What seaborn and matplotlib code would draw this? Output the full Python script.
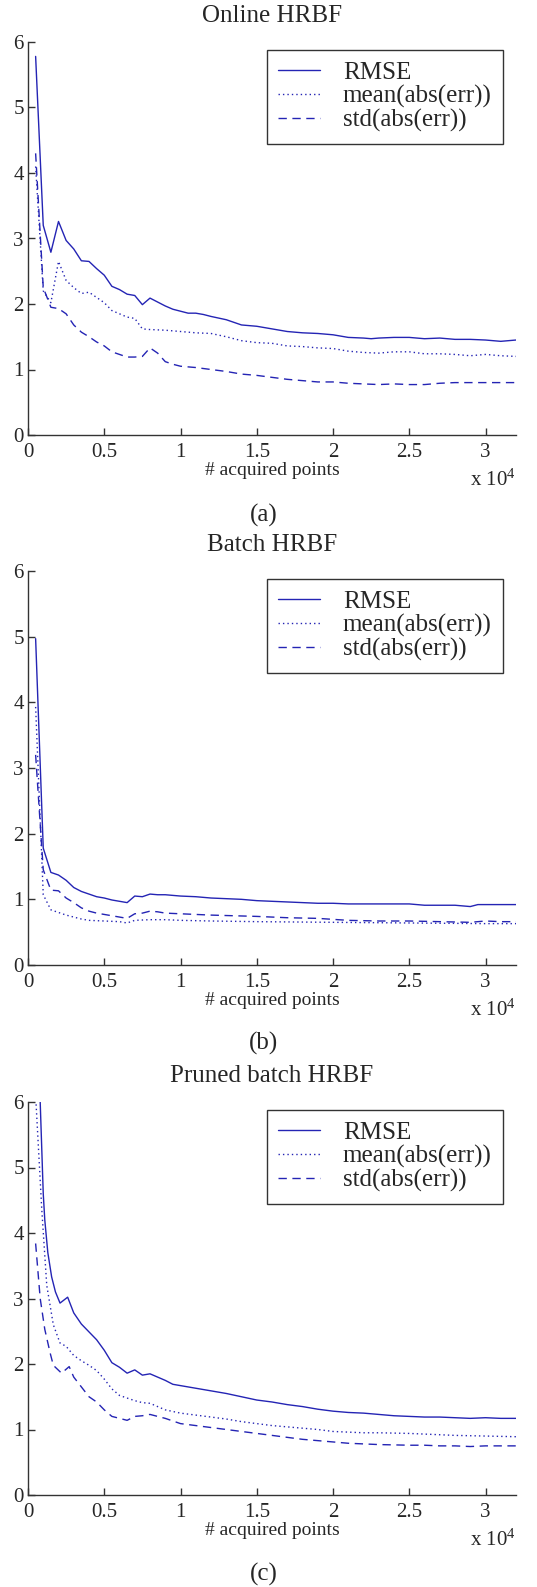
"""Erro de reconstrução vs. número de pontos adquiridos (três variantes HRBF)."""

import matplotlib
matplotlib.use("Agg")
import matplotlib.pyplot as plt
import pandas as pd
import seaborn as sns

# ---- dados ------------------------------------------------------------------
METRICS = ["RMSE", "mean(abs(err))", "std(abs(err))"]
PANEL_TITLES = ["Online HRBF", "Batch HRBF", "Pruned batch HRBF"]
PANEL_TAGS = ["(a)", "(b)", "(c)"]
X_TICKS = [0, 5000, 10000, 15000, 20000, 25000, 30000]
X_TICK_LABELS = ["0", "0.5", "1", "1.5", "2", "2.5", "3"]
Y_TICKS = [0, 1, 2, 3, 4, 5, 6]

# (a) Online HRBF
a_rmse_x = [500, 1000, 1500, 2000, 2500, 3000, 3500, 4000, 4500, 5000, 5500, 6000,
            6500, 7000, 7500, 8000, 8500, 9000, 9500, 10000, 10500, 11000, 11500,
            12000, 13000, 13500, 14000, 15000, 16000, 17000, 18000, 19000, 20000,
            21000, 22000, 22500, 23000, 24000, 25000, 26000, 27000, 28000, 29000,
            30000, 31000, 32000]
a_rmse_y = [5.78, 3.2, 2.79, 3.26, 2.97, 2.84, 2.66, 2.65, 2.54, 2.44, 2.27, 2.22,
            2.15, 2.13, 1.99, 2.09, 2.03, 1.97, 1.92, 1.89, 1.86, 1.86, 1.84,
            1.81, 1.76, 1.72, 1.68, 1.66, 1.62, 1.58, 1.56, 1.55, 1.53,
            1.49, 1.48, 1.47, 1.48, 1.49, 1.49, 1.47, 1.48, 1.46, 1.46,
            1.45, 1.43, 1.45]
a_mean_x = [500, 1000, 1500, 2000, 2500, 3000, 3500, 4000, 4500, 5000, 5500, 6000,
            6500, 7000, 7500, 8000, 9000, 10000, 11000, 12000, 13000, 14000, 15000,
            16000, 17000, 18000, 19000, 20000, 21000, 22000, 23000, 24000, 25000,
            26000, 27000, 28000, 29000, 30000, 31000, 32000]
a_mean_y = [4.1, 2.2, 2.02, 2.65, 2.36, 2.25, 2.16, 2.18, 2.1, 2.02, 1.9, 1.85,
            1.8, 1.78, 1.62, 1.61, 1.6, 1.58, 1.56, 1.55, 1.5, 1.44, 1.41,
            1.40, 1.36, 1.35, 1.33, 1.32, 1.28, 1.26, 1.25, 1.27, 1.27,
            1.24, 1.24, 1.23, 1.21, 1.23, 1.21, 1.2]
a_std_x = [500, 1000, 1500, 2000, 2500, 3000, 3500, 4000, 4500, 5000, 5500, 6000,
           6500, 7000, 7500, 8000, 8500, 9000, 9500, 10000, 11000, 12000, 13000,
           14000, 15000, 16000, 17000, 18000, 19000, 20000, 21000, 22000, 23000,
           24000, 25000, 26000, 27000, 28000, 29000, 30000, 32000]
a_std_y = [4.3, 2.25, 1.95, 1.93, 1.85, 1.68, 1.57, 1.5, 1.42, 1.36, 1.27, 1.23,
           1.19, 1.19, 1.2, 1.33, 1.25, 1.12, 1.08, 1.05, 1.03, 1.0, 0.97,
           0.93, 0.91, 0.88, 0.85, 0.83, 0.81, 0.81, 0.79, 0.78, 0.77,
           0.78, 0.77, 0.77, 0.79, 0.8, 0.8, 0.8, 0.8]

# (b) Batch HRBF
b_rmse_x = [500, 1000, 1500, 2000, 2500, 3000, 3500, 4000, 4500, 5000, 5500, 6000,
            6500, 7000, 7500, 8000, 8500, 9000, 9500, 10000, 11000, 12000, 13000,
            14000, 15000, 16000, 17000, 18000, 19000, 20000, 21000, 22000, 23000,
            24000, 25000, 26000, 27000, 28000, 29000, 29500, 30000, 32000]
b_rmse_y = [4.97, 1.78, 1.41, 1.37, 1.29, 1.18, 1.12, 1.08, 1.04, 1.02, 0.99, 0.97,
            0.95, 1.05, 1.04, 1.08, 1.07, 1.07, 1.06, 1.05, 1.04, 1.02, 1.01,
            1.0, 0.98, 0.97, 0.96, 0.95, 0.94, 0.94, 0.93, 0.93, 0.93,
            0.93, 0.93, 0.91, 0.91, 0.91, 0.89, 0.92, 0.92, 0.92]
b_mean_x = [500, 1000, 1500, 2000, 2500, 3000, 3500, 4000, 5000, 6000, 6500, 7000,
            8000, 9000, 10000, 12000, 15000, 20000, 25000, 30000, 32000]
b_mean_y = [3.93, 1.07, 0.84, 0.8, 0.76, 0.73, 0.7, 0.68, 0.67, 0.66, 0.64, 0.68,
            0.69, 0.69, 0.68, 0.67, 0.66, 0.65, 0.64, 0.63, 0.63]
b_std_x = [500, 1000, 1500, 2000, 2500, 3000, 3500, 4000, 4500, 5000, 5500, 6000,
           6500, 7000, 7500, 8000, 8500, 9000, 10000, 12000, 15000, 17000, 19000,
           21000, 23000, 25000, 27000, 29000, 30000, 31000, 32000]
b_std_y = [3.2, 1.45, 1.14, 1.13, 1.02, 0.95, 0.87, 0.82, 0.79, 0.77, 0.75, 0.73,
           0.71, 0.78, 0.79, 0.82, 0.81, 0.79, 0.78, 0.76, 0.74, 0.72, 0.71,
           0.68, 0.67, 0.67, 0.66, 0.65, 0.67, 0.66, 0.66]

# (c) Pruned batch HRBF
c_rmse_x = [700, 800, 1000, 1100, 1300, 1550, 1800, 2100, 2600, 3000, 3500, 4000,
            4500, 5000, 5500, 6000, 6500, 7000, 7500, 8000, 8500, 9000, 9500,
            10000, 11000, 12000, 13000, 14000, 15000, 16000, 17000, 18000, 19000,
            20000, 21000, 22000, 23000, 24000, 25000, 26000, 27000, 28000, 29000,
            30000, 31000, 32000]
c_rmse_y = [6.5, 6.0, 4.6, 4.2, 3.7, 3.33, 3.1, 2.93, 3.02, 2.78, 2.61, 2.49,
            2.37, 2.21, 2.02, 1.95, 1.86, 1.91, 1.83, 1.85, 1.8, 1.75, 1.69,
            1.67, 1.63, 1.59, 1.55, 1.5, 1.45, 1.42, 1.38, 1.35, 1.31,
            1.28, 1.26, 1.25, 1.23, 1.21, 1.2, 1.19, 1.19, 1.18, 1.17,
            1.18, 1.17, 1.17]
c_mean_x = [500, 900, 1230, 1660, 2100, 2500, 3000, 3500, 4000, 4500, 5000, 5500,
            6000, 6500, 7000, 7500, 8000, 8500, 9000, 10000, 11000, 12000, 13000,
            14000, 15000, 16000, 17000, 18000, 19000, 20000, 21000, 22000, 23000,
            25000, 26000, 27000, 28000, 30000, 32000]
c_mean_y = [6.1, 4.37, 3.2, 2.6, 2.32, 2.27, 2.13, 2.05, 1.98, 1.9, 1.77, 1.62,
            1.52, 1.48, 1.44, 1.41, 1.4, 1.35, 1.3, 1.25, 1.22, 1.19, 1.16,
            1.12, 1.09, 1.06, 1.04, 1.02, 1.0, 0.97, 0.96, 0.95, 0.95,
            0.94, 0.93, 0.92, 0.91, 0.9, 0.89]
c_std_x = [500, 800, 1100, 1450, 1660, 2200, 2700, 3000, 3500, 4000, 4500, 5000,
           5500, 6000, 6500, 7000, 7500, 8000, 8500, 9000, 10000, 11000, 12000,
           13000, 14000, 15000, 16000, 17000, 18000, 19000, 20000, 21000, 22000,
           23000, 25000, 26000, 27000, 28000, 29000, 30000, 32000]
c_std_y = [3.84, 3.0, 2.53, 2.17, 1.98, 1.86, 1.96, 1.8, 1.65, 1.5, 1.42, 1.3,
           1.2, 1.17, 1.14, 1.2, 1.21, 1.23, 1.2, 1.17, 1.09, 1.06, 1.03,
           1.0, 0.97, 0.94, 0.91, 0.88, 0.85, 0.83, 0.81, 0.79, 0.78,
           0.77, 0.76, 0.76, 0.75, 0.75, 0.74, 0.75, 0.75]

PANELS = [
    [(a_rmse_x, a_rmse_y), (a_mean_x, a_mean_y), (a_std_x, a_std_y)],
    [(b_rmse_x, b_rmse_y), (b_mean_x, b_mean_y), (b_std_x, b_std_y)],
    [(c_rmse_x, c_rmse_y), (c_mean_x, c_mean_y), (c_std_x, c_std_y)],
]

# ---- estilo ------------------------------------------------------------------
sns.set_style("ticks")
plt.rcParams["font.family"] = ["Liberation Serif", "DejaVu Serif"]
plt.rcParams["mathtext.fontset"] = "custom"
plt.rcParams["mathtext.rm"] = "Liberation Serif"
plt.rcParams["mathtext.it"] = "Liberation Serif"

BLUE = "#2424b4"
AXIS = "#333333"
DASHES = {"RMSE": "", "mean(abs(err))": (1, 2.2), "std(abs(err))": (6, 4)}

W, H = 537, 1587
fig = plt.figure(figsize=(W / 100, H / 100), dpi=100)

AX_LEFT, AX_RIGHT = 28, 516
AX_ROWS = [(42, 435), (571, 965), (1102, 1495)]
TITLE_Y = [16, 545, 1076]
TAG_Y = [515, 1043, 1574]

for i, (top, bottom) in enumerate(AX_ROWS):
    ax = fig.add_axes([AX_LEFT / W, 1 - bottom / H,
                       (AX_RIGHT - AX_LEFT) / W, (bottom - top) / H])
    frames = [
        pd.DataFrame({"points": xs, "error": ys, "metric": name})
        for name, (xs, ys) in zip(METRICS, PANELS[i])
    ]
    df = pd.concat(frames, ignore_index=True)
    sns.lineplot(
        data=df, x="points", y="error", style="metric", style_order=METRICS,
        dashes=DASHES, color=BLUE, linewidth=1.0, estimator=None, sort=False,
        legend=False, ax=ax,
    )
    ax.set_xlim(0, 32000)
    ax.set_ylim(0, 6)
    ax.set_xticks(X_TICKS)
    ax.set_xticklabels(X_TICK_LABELS)
    ax.set_yticks(Y_TICKS)
    ax.tick_params(direction="in", length=5, width=1, color=AXIS,
                   labelsize=15, pad=3)
    ax.tick_params(axis="x", pad=6)
    for side in ("top", "right"):
        ax.spines[side].set_visible(False)
    for side in ("left", "bottom"):
        ax.spines[side].set_color(AXIS)
        ax.spines[side].set_linewidth(1.0)
    ax.set_xlabel("# acquired points", fontsize=14, labelpad=0)
    ax.set_ylabel("")
    ax.text(1.0, -45 / (bottom - top), r"x 10$^{4}$", transform=ax.transAxes,
            ha="right", va="center", fontsize=15)

    leg = ax.legend(
        ax.get_lines()[:3], METRICS, loc="upper right",
        bbox_to_anchor=((503 - AX_LEFT) / (AX_RIGHT - AX_LEFT),
                        1 - 8 / (bottom - top)),
        borderaxespad=0, fontsize=18, frameon=True, fancybox=False,
        handlelength=1.7, handletextpad=0.9, labelspacing=0.05,
        borderpad=0.45, edgecolor=AXIS, framealpha=1,
    )
    leg.get_frame().set_linewidth(1.0)

    fig.text(272 / W, 1 - TITLE_Y[i] / H, PANEL_TITLES[i], ha="center",
             va="center", fontsize=18)
    fig.text(264 / W, 1 - TAG_Y[i] / H, PANEL_TAGS[i], ha="center",
             va="center", fontsize=18)

fig.savefig("out.png", dpi=100)
